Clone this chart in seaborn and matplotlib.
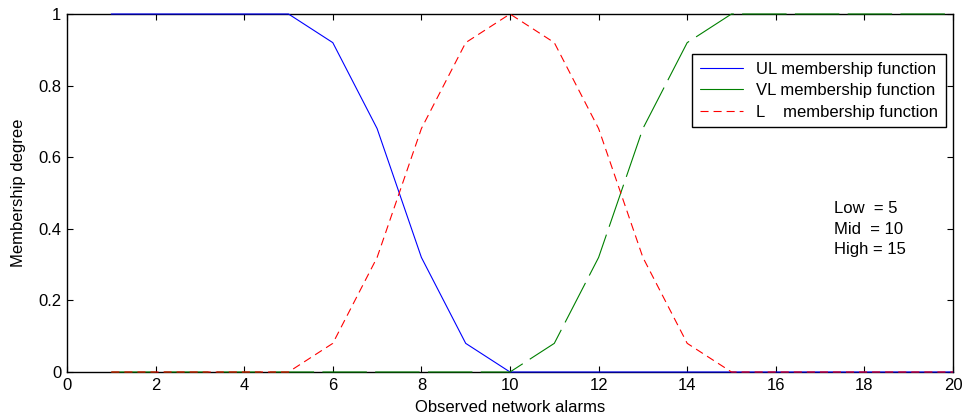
import matplotlib
matplotlib.use("Agg")
import matplotlib.pyplot as plt
import seaborn as sns
import pandas as pd

# ---- data ----
alarms = list(range(1, 21))
ul_values = [1, 1, 1, 1, 1, 0.92, 0.68, 0.32, 0.08, 0, 0, 0, 0, 0, 0, 0, 0, 0, 0, 0]
vl_values = [0, 0, 0, 0, 0, 0, 0, 0, 0, 0, 0.08, 0.32, 0.68, 0.92, 1, 1, 1, 1, 1, 1]
l_values = [0, 0, 0, 0, 0, 0.08, 0.32, 0.68, 0.92, 1, 0.92, 0.68, 0.32, 0.08, 0, 0, 0, 0, 0, 0]
series_labels = ["UL membership function", "VL membership function", "L    membership function"]
x_ticks = [0, 2, 4, 6, 8, 10, 12, 14, 16, 18, 20]
y_ticks = [0, 0.2, 0.4, 0.6, 0.8, 1]
y_tick_labels = ["0", "0.2", "0.4", "0.6", "0.8", "1"]
note_lines = ["Low  = 5", "Mid  = 10", "High = 15"]
note_y = [0.458, 0.397, 0.341]

sns.set_style("ticks")
plt.rcParams["font.family"] = ["Liberation Sans", "DejaVu Sans"]
plt.rcParams["lines.scale_dashes"] = False
plt.rcParams["text.color"] = "black"
plt.rcParams["axes.labelcolor"] = "black"

FS = 12

fig = plt.figure(figsize=(9.66, 4.2), dpi=100)
ax = fig.add_axes([67 / 966, 48 / 420, 886 / 966, 358 / 420])

df_ul = pd.DataFrame({"x": alarms, "y": ul_values})
df_vl = pd.DataFrame({"x": alarms, "y": vl_values})
df_l = pd.DataFrame({"x": alarms, "y": l_values})

sns.lineplot(data=df_ul, x="x", y="y", ax=ax, color=(0, 0, 1), lw=0.8, label=series_labels[0])
sns.lineplot(data=df_vl, x="x", y="y", ax=ax, color=(0, 0.5, 0), lw=0.8, label=series_labels[1])
sns.lineplot(data=df_l, x="x", y="y", ax=ax, color=(1, 0, 0), lw=0.8, label=series_labels[2])

ax.lines[1].set_linestyle((0, (32, 6)))
ax.lines[2].set_linestyle((0, (5.8, 3.6)))
for ln in ax.lines[:3]:
    ln.set_clip_on(False)
    ln.set_zorder(5)

ax.set_xlim(0, 20)
ax.set_ylim(0, 1)
ax.set_xticks(x_ticks)
ax.set_xticklabels([str(t) for t in x_ticks])
ax.set_yticks(y_ticks)
ax.set_yticklabels(y_tick_labels)
ax.tick_params(direction="in", length=4, width=0.8, top=True, right=True,
               labelsize=FS, colors="black", pad=4)
for s in ax.spines.values():
    s.set_visible(True)
    s.set_linewidth(1.0)
    s.set_color("black")
    s.set_zorder(2)

ax.set_xlabel("Observed network alarms", fontsize=FS, labelpad=5)
ax.set_ylabel("Membership degree", fontsize=FS, labelpad=9)

leg = ax.legend(loc="upper right", bbox_to_anchor=(0.992, 0.888), fontsize=FS,
                frameon=True, fancybox=False, edgecolor="black", framealpha=1,
                handlelength=2.6, handletextpad=0.8, labelspacing=0.4,
                borderpad=0.45, borderaxespad=0)
leg.get_frame().set_linewidth(1.0)
leg.set_zorder(10)
leg_handles = leg.legend_handles if hasattr(leg, "legend_handles") else leg.legendHandles
leg_handles[1].set_linestyle("-")

for txt, yy in zip(note_lines, note_y):
    ax.text(17.31, yy, txt, fontsize=FS, va="center", ha="left")

fig.savefig("out.png", dpi=100)
